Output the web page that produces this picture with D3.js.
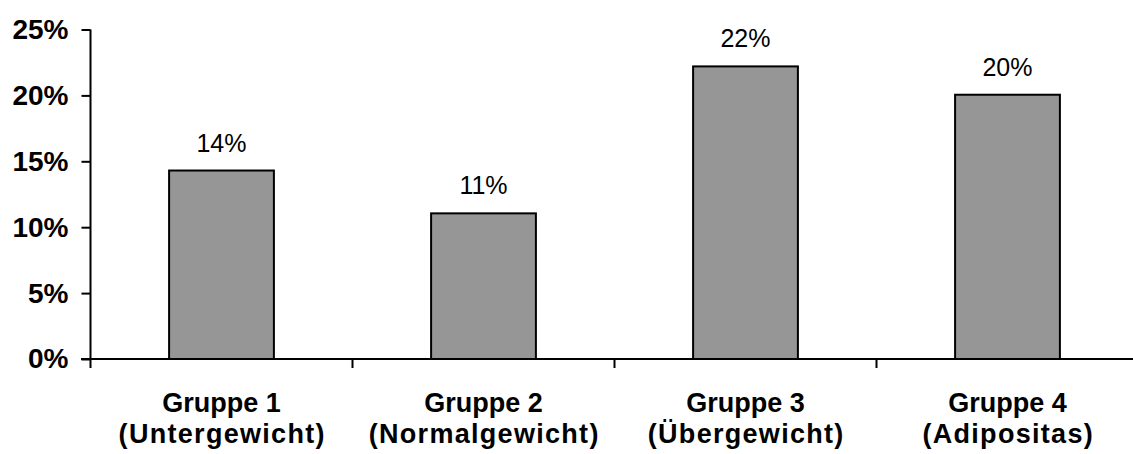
<!DOCTYPE html>
<html><head><meta charset="utf-8">
<script src="https://cdn.jsdelivr.net/npm/d3@7"></script>
<style>body{margin:0;background:#fff}svg{display:block}</style>
</head><body>
<svg id="c" width="1133" height="454"></svg>
<script>
const categories = ["Gruppe 1", "Gruppe 2", "Gruppe 3", "Gruppe 4"];
const subLabels = ["(Untergewicht)", "(Normalgewicht)", "(Übergewicht)", "(Adipositas)"];
const values = [0.143, 0.1105, 0.222, 0.2005];
const valueLabels = ["14%", "11%", "22%", "20%"];
const yTicks = [0, 0.05, 0.10, 0.15, 0.20, 0.25];

const svg = d3.select("#c");
const font = "Arial, 'Liberation Sans', sans-serif";
const x = d3.scaleBand().domain(categories).range([90.5, 1138.5]).paddingInner(0.6).paddingOuter(0.3);
const y = d3.scaleLinear().domain([0, 0.25]).range([359, 29.5]);

// bars
svg.selectAll("rect.bar").data(categories).enter().append("rect")
  .attr("class", "bar")
  .attr("x", d => x(d))
  .attr("width", x.bandwidth())
  .attr("y", (d, i) => y(values[i]))
  .attr("height", (d, i) => y(0) - y(values[i]))
  .attr("fill", "#969696").attr("stroke", "#000").attr("stroke-width", 2);

// value labels
svg.selectAll("text.val").data(categories).enter().append("text")
  .attr("x", d => x(d) + x.bandwidth() / 2)
  .attr("y", (d, i) => y(values[i]) - 19)
  .attr("text-anchor", "middle")
  .attr("font-family", font).attr("font-size", 25).attr("fill", "#000")
  .text((d, i) => valueLabels[i]);

// y axis
const yAxis = d3.axisLeft(y).tickValues(yTicks).tickFormat(d3.format(".0%")).tickSize(9).tickPadding(13);
const gy = svg.append("g").attr("transform", "translate(90.5,0)").call(yAxis);
gy.select(".domain").attr("d", `M0,${y(0.25)}V${y(0) + 9}`).attr("stroke", "#000").attr("stroke-width", 2);
gy.selectAll(".tick line").attr("stroke", "#000").attr("stroke-width", 2);
gy.selectAll(".tick text").attr("font-family", font).attr("font-size", 28).attr("font-weight", "bold").attr("fill", "#000");

// x axis
const band = d3.scaleBand().domain(categories).range([90.5, 1138.5]);
svg.append("line").attr("x1", 81).attr("x2", 1133).attr("y1", y(0)).attr("y2", y(0))
  .attr("stroke", "#000").attr("stroke-width", 2);
svg.selectAll("line.xt").data(categories.slice(1)).enter().append("line")
  .attr("x1", d => band(d)).attr("x2", d => band(d))
  .attr("y1", y(0)).attr("y2", y(0) + 9)
  .attr("stroke", "#000").attr("stroke-width", 2);

const lab = svg.selectAll("g.cat").data(categories).enter().append("g")
  .attr("transform", d => `translate(${band(d) + band.bandwidth() / 2},0)`);
lab.append("text").attr("y", 412).attr("text-anchor", "middle")
  .attr("font-family", font).attr("font-size", 27).attr("font-weight", "bold").text(d => d);
lab.append("text").attr("x", 0.7).attr("y", 443).attr("text-anchor", "middle")
  .attr("letter-spacing", 1.3)
  .attr("font-family", font).attr("font-size", 27).attr("font-weight", "bold").text((d, i) => subLabels[i]);
</script>
</body></html>
